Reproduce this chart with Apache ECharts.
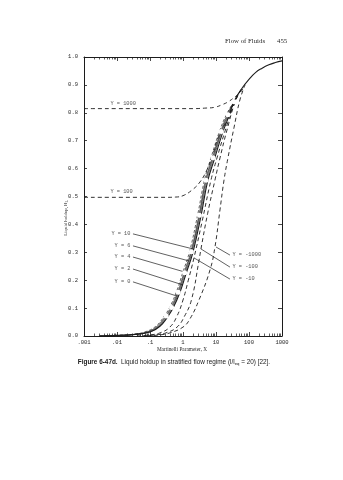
<!DOCTYPE html>
<html>
<head>
<meta charset="utf-8">
<script src="https://cdn.jsdelivr.net/npm/echarts@6/dist/echarts.min.js"></script>
<style>
html,body{margin:0;padding:0;background:#fff;}
#chart{width:343px;height:480px;}
</style>
</head>
<body>
<div id="chart"></div>
<script>
// ---- tick labels ----
const xTickLabels = ['.001', '.01', '.1', '1', '10', '100', '1000'];
const yTickLabels = ['0.0', '0.1', '0.2', '0.3', '0.4', '0.5', '0.6', '0.7', '0.8', '0.9', '1.0'];

// ---- curves: [Martinelli parameter X, liquid holdup H_L] ----
const curveY0 = [[0.003,0],[0.01,0.002],[0.03,0.005],[0.1,0.014],[0.2,0.035],[0.35,0.07],[0.5,0.10],[0.8,0.155],[1.25,0.225],[2,0.30],[3.5,0.43],[5.6,0.555],[9,0.635],[16,0.73],[25,0.79],[35,0.84],[63,0.89],[100,0.92],[160,0.945],[250,0.96],[400,0.972],[630,0.98],[1000,0.986]];
const curveY2 = [[0.003,0],[0.01,0.002],[0.03,0.005],[0.1,0.015],[0.19,0.036],[0.33,0.071],[0.47,0.101],[0.75,0.156],[1.18,0.226],[1.88,0.301],[3.3,0.432],[5.3,0.557],[8.5,0.638],[15,0.732],[24,0.792],[35,0.84]];
const curveY4 = [[0.003,0],[0.01,0.002],[0.03,0.005],[0.09,0.015],[0.18,0.036],[0.31,0.072],[0.45,0.102],[0.72,0.157],[1.12,0.227],[1.8,0.302],[3.15,0.433],[5.0,0.558],[8.1,0.639],[14.5,0.733],[23,0.793],[35,0.84]];
const curveY6 = [[0.003,0],[0.01,0.002],[0.03,0.005],[0.087,0.016],[0.17,0.037],[0.3,0.073],[0.43,0.103],[0.69,0.158],[1.08,0.228],[1.74,0.303],[3.05,0.434],[4.85,0.559],[7.8,0.64],[14,0.734],[22,0.794],[35,0.84]];
const curveY10 = [[0.003,0],[0.01,0.003],[0.03,0.006],[0.08,0.017],[0.16,0.038],[0.28,0.074],[0.4,0.104],[0.64,0.16],[1.0,0.23],[1.6,0.305],[2.8,0.436],[4.5,0.56],[7.2,0.642],[13,0.736],[21,0.795],[35,0.84]];
const curveYm10 = [[0.04,0],[0.1,0.004],[0.2,0.011],[0.4,0.032],[0.65,0.07],[1.0,0.129],[1.45,0.2],[2.15,0.28],[3.77,0.409],[7.05,0.559],[10.7,0.638],[21.5,0.756],[40,0.848],[66,0.893]];
const curveYm100 = [[0.06,0],[0.15,0.004],[0.3,0.011],[0.66,0.032],[1.1,0.07],[1.8,0.129],[3.05,0.27],[3.5,0.312],[5.6,0.44],[9.3,0.559],[13.2,0.638],[21.5,0.738],[40,0.846],[66,0.893]];
const curveYm1000 = [[0.08,0],[0.2,0.004],[0.4,0.011],[1.0,0.032],[1.6,0.06],[3.05,0.129],[6.6,0.237],[9.3,0.319],[13.2,0.452],[17.5,0.559],[23,0.638],[35,0.746],[53,0.846],[76,0.90]];
const curveY100 = [[0.001,0.497],[0.3,0.497],[0.6,0.498],[1.0,0.503],[1.87,0.523],[3.27,0.552],[5.3,0.595],[7.6,0.642],[11.5,0.71],[17.5,0.753],[25,0.79],[35,0.84]];
const curveY1000 = [[0.001,0.815],[2,0.815],[5,0.817],[9.3,0.82],[16,0.83],[23,0.839],[37.7,0.857],[55,0.874],[70,0.893]];

// ---- annotation leaders: text, label point, point on curve ----
const leftNoteText = ['Y = 10', 'Y = 6', 'Y = 4', 'Y = 2', 'Y = 0'];
const leftNoteFrom = [[0.0305,0.366],[0.0305,0.323],[0.0305,0.283],[0.0305,0.240],[0.0305,0.194]];
const leftNoteTo = [[2.01,0.312],[1.52,0.269],[1.15,0.229],[1.0,0.183],[0.66,0.143]];
const rightNoteText = ['Y = -1000', 'Y = -100', 'Y = -10'];
const rightNoteFrom = [[26.5,0.29],[26.5,0.247],[26.5,0.204]];
const rightNoteTo = [[10,0.319],[3.5,0.312],[2.15,0.28]];
const plateauNoteText = ['Y = 1000', 'Y = 100'];
const plateauNoteAt = [[0.0061,0.832],[0.0061,0.516]];

const ink = '#1c1c1c';
const textInk = '#2a2a2a';
const mono = '"Liberation Mono", "DejaVu Sans Mono", monospace';
const serif = '"Liberation Serif", "DejaVu Serif", serif';
const sans = '"Liberation Sans", Arial, sans-serif';

// decoration axes work in decade units (log10 X) so that the 2..9 ticks sit right
const decadeMin = -3, decadeMax = 3;
const minorTickDecades = [];
for (let e = decadeMin; e < decadeMax; e++) {
  for (let m = 2; m <= 9; m++) minorTickDecades.push(e + Math.log10(m));
}

const baseAxisLine = { show: true, onZero: false, lineStyle: { color: ink, width: 1 } };
const majorTick = { show: true, inside: true, length: 4, lineStyle: { color: ink, width: 0.8 } };
const minorTickStyle = { show: true, inside: true, length: 2.5, customValues: minorTickDecades, lineStyle: { color: ink, width: 0.7 } };

function decadeAxis(position, tick) {
  return {
    type: 'value', min: decadeMin, max: decadeMax, interval: 1, position: position,
    splitLine: { show: false },
    axisLine: { show: false, onZero: false },
    axisTick: tick, axisLabel: { show: false }
  };
}

const dashed = { type: [4, 3], width: 0.9, color: ink };

function curve(data, lineStyle, extra) {
  return Object.assign({
    type: 'line', data: data, xAxisIndex: 0, yAxisIndex: 0,
    smooth: 0.45, symbol: 'none',
    lineStyle: lineStyle, silent: true, z: 3
  }, extra || {});
}

const series = [
  curve(curveY1000, dashed),
  curve(curveY100, dashed),
  curve(curveYm1000, dashed),
  curve(curveYm100, dashed),
  curve(curveYm10, dashed),
  curve(curveY10, { type: [3, 2], width: 0.7, color: ink }),
  curve(curveY6, { width: 0.6, color: ink }),
  curve(curveY4.map(p => (p[1] < 0.06 ? { value: p, symbol: 'none' } : p)), { width: 0.6, color: ink }, {
    symbol: 'emptyCircle', symbolSize: 3, showSymbol: true,
    itemStyle: { color: '#fff', borderColor: ink, borderWidth: 0.6 }
  }),
  curve(curveY2, { width: 0.6, color: ink }),
  curve(curveY0, { width: 1.1, color: ink })
];

// leader lines
leftNoteFrom.forEach((p, i) => {
  series.push({ type: 'line', data: [p, leftNoteTo[i]], symbol: 'none', silent: true,
    lineStyle: { width: 0.7, color: ink }, z: 2 });
});
rightNoteFrom.forEach((p, i) => {
  series.push({ type: 'line', data: [p, rightNoteTo[i]], symbol: 'none', silent: true,
    lineStyle: { width: 0.7, color: ink }, z: 2 });
});

const noteLabel = { show: true, formatter: '{b}', fontFamily: mono, fontSize: 5.3, color: textInk };
function noteSeries(points, texts, position, distance) {
  return {
    type: 'scatter', symbolSize: 1, itemStyle: { color: 'rgba(0,0,0,0)' }, silent: true,
    data: points.map((p, i) => ({ value: p, name: texts[i] })),
    label: Object.assign({ position: position, distance: distance }, noteLabel)
  };
}
series.push(noteSeries(leftNoteFrom, leftNoteText, 'left', 2));
series.push(noteSeries(rightNoteFrom, rightNoteText, 'right', 2));
series.push(noteSeries(plateauNoteAt, plateauNoteText, 'right', 0));

const chart = echarts.init(document.getElementById('chart'), null, { renderer: 'canvas' });
chart.setOption({
  animation: false,
  backgroundColor: '#fff',
  grid: { left: 84, right: 61, top: 57, bottom: 144, containLabel: false, outerBoundsMode: 'none' },
  xAxis: [
    {
      type: 'log', logBase: 10, min: 0.001, max: 1000, splitNumber: 6, position: 'bottom',
      splitLine: { show: false },
      axisLine: baseAxisLine,
      axisTick: majorTick,
      axisLabel: {
        show: true, margin: 4, fontFamily: mono, fontSize: 5.5, color: textInk,
        formatter: v => xTickLabels[Math.round(Math.log10(v)) + 3]
      }
    },
    decadeAxis('bottom', minorTickStyle),
    Object.assign(decadeAxis('top', majorTick), { axisLine: baseAxisLine }),
    decadeAxis('top', minorTickStyle)
  ],
  yAxis: [
    {
      type: 'value', min: 0, max: 1, interval: 0.1, position: 'left',
      splitLine: { show: false },
      axisLine: baseAxisLine,
      axisTick: { show: true, inside: true, length: 3, lineStyle: { color: ink, width: 0.8 } },
      axisLabel: { show: true, margin: 6, fontFamily: mono, fontSize: 5.5, color: textInk,
        formatter: v => yTickLabels[Math.round(v * 10)] }
    },
    {
      type: 'value', min: 0, max: 1, interval: 0.1, position: 'right',
      splitLine: { show: false },
      axisLine: baseAxisLine,
      axisTick: majorTick,
      axisLabel: { show: false }
    }
  ],
  graphic: [
    { type: 'text', x: 225, y: 41, style: { text: 'Flow of Fluids', fontFamily: serif, fontSize: 6.8, fill: textInk, verticalAlign: 'middle' } },
    { type: 'text', x: 277, y: 41, style: { text: '455', fontFamily: serif, fontSize: 6.8, fill: textInk, verticalAlign: 'middle' } },
    { type: 'text', x: 66, y: 218, rotation: Math.PI / 2,
      style: { text: '{a|Liquid holdup, H}{s|L}', align: 'center', verticalAlign: 'middle', fill: textInk,
        rich: { a: { fontFamily: serif, fontSize: 4.8, fill: textInk }, s: { fontFamily: serif, fontSize: 3.5, fill: textInk, padding: [3, 0, 0, 0] } } } },
    { type: 'text', x: 182, y: 350, style: { text: 'Martinelli Parameter, X', fontFamily: serif, fontSize: 5.3, fill: textInk, align: 'center', verticalAlign: 'middle' } },
    { type: 'text', x: 174, y: 362,
      style: { text: '{b|Figure 6-47d.} {a|Liquid holdup in stratified flow regime (l/l}{s|eq}{a| = 20) [22].}',
        align: 'center', verticalAlign: 'middle', fill: textInk,
        rich: {
          b: { fontFamily: sans, fontSize: 6.4, fontWeight: 'bold', fill: '#1a1a1a' },
          a: { fontFamily: sans, fontSize: 6.4, fill: '#1a1a1a' },
          s: { fontFamily: sans, fontSize: 4.3, fill: '#1a1a1a', padding: [4, 0, 0, 0] }
        } } }
  ],
  series: series
});
</script>
</body>
</html>
